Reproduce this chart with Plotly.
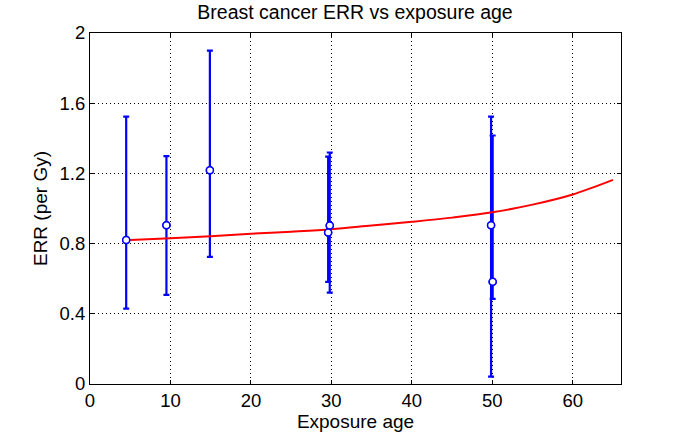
import plotly.graph_objects as go

# Data points (exposure age, ERR, CI)
pt_x = [4.5, 9.5, 14.9, 29.8, 29.6, 49.85, 50.05]
pt_y = [0.82, 0.905, 1.218, 0.903, 0.863, 0.905, 0.582]
pt_hi = [1.524, 1.298, 1.90, 1.319, 1.296, 1.524, 1.416]
pt_lo = [0.43, 0.508, 0.724, 0.521, 0.582, 0.042, 0.485]

# Fitted curve
fit_x = [5, 10, 15, 20, 25, 30, 35, 40, 45, 50, 55, 60, 65]
fit_y = [0.820, 0.830, 0.842, 0.856, 0.868, 0.882, 0.903, 0.924, 0.948, 0.978, 1.022, 1.080, 1.163]

x_ticks = [0, 10, 20, 30, 40, 50, 60]
y_ticks = [0, 0.4, 0.8, 1.2, 1.6, 2]
y_tick_text = ["0", "0.4", "0.8", "1.2", "1.6", "2"]

err_plus = [h - y for h, y in zip(pt_hi, pt_y)]
err_minus = [y - l for l, y in zip(pt_lo, pt_y)]

marker_style = dict(symbol="circle", size=7, color="white",
                    line=dict(color="#0000ff", width=1.5))

fig = go.Figure()
fig.add_trace(go.Scatter(
    x=pt_x, y=pt_y, mode="markers",
    marker=marker_style,
    error_y=dict(type="data", symmetric=False, array=err_plus, arrayminus=err_minus,
                 color="#0000ff", thickness=2.2, width=3),
    showlegend=False,
))
fig.add_trace(go.Scatter(
    x=fit_x, y=fit_y, mode="lines",
    line=dict(color="#ff0000", width=2, shape="spline"),
    showlegend=False,
))
fig.add_trace(go.Scatter(
    x=pt_x, y=pt_y, mode="markers",
    marker=marker_style,
    showlegend=False, hoverinfo="skip",
))

font = "Liberation Sans, Arial, Helvetica, sans-serif"
axis_common = dict(
    showline=True, linecolor="black", linewidth=1, mirror="allticks",
    ticks="inside", ticklen=4, tickcolor="black", automargin=False,
    showgrid=True, gridcolor="black", griddash="1px,3px", gridwidth=1,
    zeroline=False, tickfont=dict(family=font, size=18.5, color="black"),
)
fig.update_xaxes(range=[0, 66], tickvals=x_ticks,
                 title=dict(text="Exposure age", font=dict(family=font, size=19, color="black"), standoff=3),
                 **axis_common)
fig.update_yaxes(range=[0, 2], tickvals=y_ticks, ticktext=y_tick_text,
                 title=dict(text="ERR (per Gy)", font=dict(family=font, size=19, color="black"), standoff=6),
                 **axis_common)
fig.update_layout(
    width=686, height=435,
    margin=dict(l=90, r=65, t=33, b=51),
    paper_bgcolor="white", plot_bgcolor="white",
    title=dict(text="Breast cancer ERR vs exposure age", x=0.5175, xanchor="center",
               y=0.987, yanchor="top", font=dict(family=font, size=19.5, color="black")),
)
fig.write_html("out.html", config={"displayModeBar": False},
               post_script="document.body.style.margin='0';")
